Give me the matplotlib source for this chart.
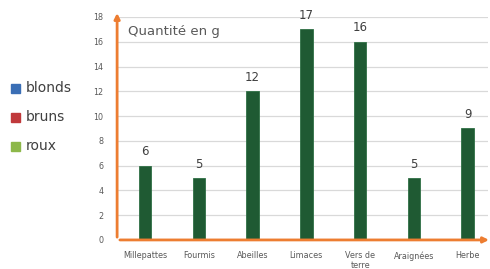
import matplotlib.pyplot as plt

# data
categories = ['Millepattes', 'Fourmis', 'Abeilles', 'Limaces', 'Vers de\nterre', 'Araignées', 'Herbe']
values = [6, 5, 12, 17, 16, 5, 9]
legend_labels = ['blonds', 'bruns', 'roux']
legend_colors = ['#3a6eb5', '#c0393b', '#8db84a']

fig = plt.figure(figsize=(4.9, 2.69), dpi=100)
ax = fig.add_axes([0.239, 0.108, 0.757, 0.829])

x = range(len(categories))
ax.bar(x, values, width=0.23, color='#1f5a33', edgecolor='#2f7045', linewidth=0.6, zorder=3)

for xi, v in zip(x, values):
    ax.text(xi, v + 0.6, str(v), ha='center', va='bottom', fontsize=8.5, color='#404040')

ax.set_xlim(-0.52, 6.38)
ax.set_ylim(0, 18)
ax.set_yticks(range(0, 19, 2))
ax.set_xticks(list(x))
ax.set_xticklabels(categories, fontsize=5.8, color='#595959', linespacing=1.2)
ax.tick_params(axis='y', labelsize=5.8, labelcolor='#595959', length=0, pad=10)
ax.tick_params(axis='x', length=0, pad=8)
ax.yaxis.grid(True, color='#d9d9d9', linewidth=0.9, zorder=0)
for s in ax.spines.values():
    s.set_visible(False)

# orange axis arrows
orange = '#ed7d31'
ax.annotate('', xy=(0, 1.03), xytext=(0, 0), xycoords='axes fraction',
            arrowprops=dict(arrowstyle='-|>', color=orange, lw=2, mutation_scale=8),
            annotation_clip=False, zorder=5)
ax.annotate('', xy=(1.01, 0), xytext=(0, 0), xycoords='axes fraction',
            arrowprops=dict(arrowstyle='-|>', color=orange, lw=2, mutation_scale=8),
            annotation_clip=False, zorder=5)

ax.text(0.03, 0.935, 'Quantité en g', transform=ax.transAxes, fontsize=9.5,
        color='#595959', va='center', ha='left')

# legend on the left
for i, (lab, col) in enumerate(zip(legend_labels, legend_colors)):
    yy = 1 - (88 + 29 * i) / 269
    fig.patches.append(plt.Rectangle((11 / 490, yy - 0.017), 9 / 490, 9 / 269,
                                     transform=fig.transFigure, color=col))
    fig.text(26 / 490, yy, lab, fontsize=10, color='#404040', va='center', ha='left')

plt.savefig('out.png', dpi=100)
